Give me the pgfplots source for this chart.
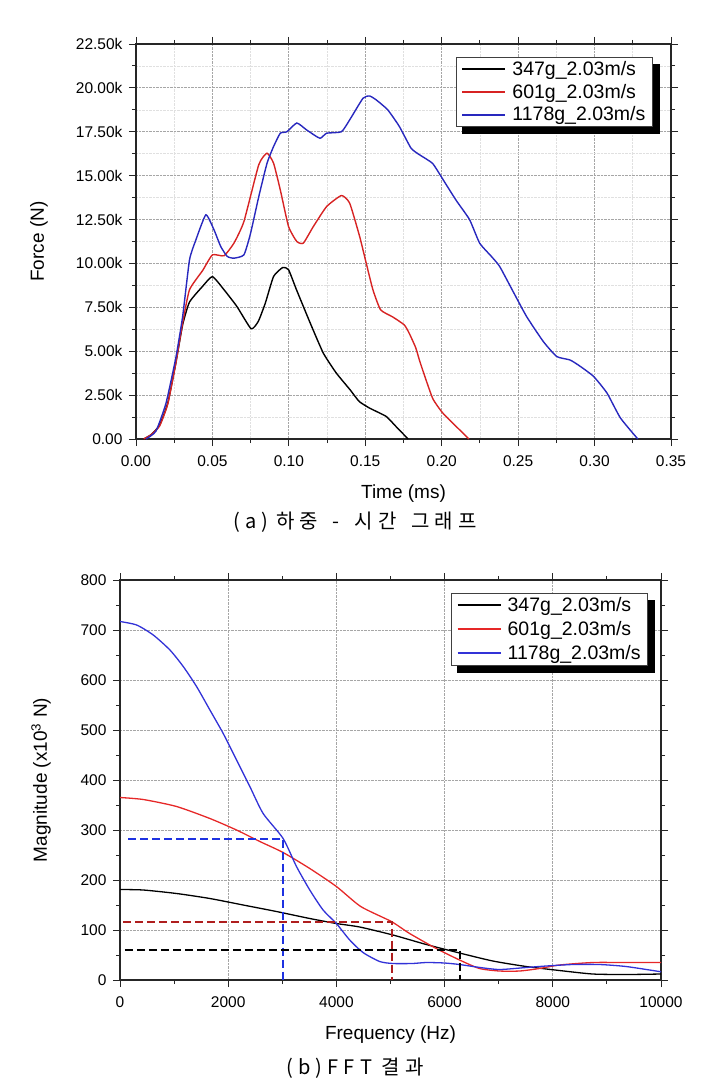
\documentclass[border=0pt]{standalone}
\usepackage{fontspec}
\setmainfont{Liberation Sans}
\newfontfamily\kr[LetterSpace=26]{Noto Sans CJK KR}
\usepackage{pgfplots}
\pgfplotsset{compat=1.18}
\definecolor{tred}{RGB}{215,35,35}
\definecolor{tblue}{RGB}{40,40,190}
\definecolor{bred}{RGB}{230,40,40}
\definecolor{bblue}{RGB}{50,50,215}
\definecolor{dred}{RGB}{175,30,30}
\definecolor{dblue}{RGB}{30,50,225}
\pgfplotsset{
 myaxis/.style={
  scale only axis,
  axis line style={line width=1.2pt, black!85},
  tick align=outside,
  major tick length=7pt, minor tick length=4pt,
  every tick/.style={line width=1pt, black!85},
  tick label style={font=\fontsize{15.5}{18}\selectfont},
  xticklabel style={yshift=-6pt},
  yticklabel style={xshift=-3pt},
  /pgf/number format/assume math mode=true,
  scaled x ticks=false, scaled y ticks=false,
  major grid style={densely dotted, line width=0.8pt, black!35},
  minor grid style={densely dotted, line width=0.6pt, black!12},
  every axis x label/.style={at={(axis description cs:0.5,0)}, anchor=center, yshift=-55pt, font=\fontsize{19}{22}\selectfont},
  every axis y label/.style={at={(axis description cs:0,0.5)}, anchor=center, rotate=90, font=\fontsize{19}{22}\selectfont},
  legend cell align=left,
  legend style={draw=black!75, line width=0.8pt, fill=white,
    font=\fontsize{19.5}{22}\selectfont, inner xsep=5pt, inner ysep=3pt,
    nodes={inner ysep=1.2pt},
    /tikz/every odd column/.style={column sep=4pt}},
  legend image code/.code={\draw[##1, line width=2pt] (0pt,0pt) -- (43pt,0pt);},
 }
}
\begin{document}
\begin{tikzpicture}
\useasboundingbox (0pt,0pt) rectangle (721pt,-1081pt);
% ---------------- (a) ----------------
\begin{axis}[myaxis, at={(136pt,-439pt)}, anchor=south west, width=535pt, height=395pt,
  xmin=0, xmax=0.35, ymin=0, ymax=22.5,
  xtick={0,0.05,0.10,0.15,0.20,0.25,0.30,0.35},
  xticklabels={0.00,0.05,0.10,0.15,0.20,0.25,0.30,0.35},
  ytick={0,2.5,5,7.5,10,12.5,15,17.5,20,22.5},
  yticklabels={0.00,2.50k,5.00k,7.50k,10.00k,12.50k,15.00k,17.50k,20.00k,22.50k},
  minor x tick num=1, minor y tick num=1,
  grid=both,
  xlabel={Time (ms)}, ylabel={Force (N)},
  ylabel style={at={(axis description cs:-0.1813,0.5)}},
  legend style={name=LA, row sep=4.5pt, at={(axis description cs:0.966,0.967)}, anchor=north east},
]
\addplot[black, line width=1.4pt, smooth, tension=0.3] coordinates {
(0.005,0) (0.010,0.25) (0.0155,0.8) (0.0208,2.05) (0.026,4.3) (0.0305,6.5) (0.035,7.8)
(0.0436,8.7) (0.050,9.25) (0.0576,8.5) (0.066,7.55) (0.0753,6.28) (0.080,6.7)
(0.0846,7.74) (0.090,9.26) (0.096,9.77) (0.0998,9.64) (0.105,8.5) (0.114,6.6)
(0.1225,4.9) (0.131,3.76) (0.140,2.81) (0.146,2.14) (0.1528,1.76) (0.1636,1.29)
(0.170,0.72) (0.178,0)};
\addlegendentry{347g\_2.03m/s}
\addplot[tred, line width=1.4pt, smooth, tension=0.3] coordinates {
(0.005,0) (0.010,0.25) (0.0155,0.75) (0.0208,2.0) (0.026,4.3) (0.0305,6.6) (0.035,8.5)
(0.0436,9.6) (0.050,10.49) (0.0576,10.44) (0.0641,11.16) (0.0706,12.39) (0.0803,15.62)
(0.0857,16.28) (0.090,15.71) (0.0944,14.19) (0.0998,12.1) (0.1052,11.25) (0.1095,11.16)
(0.116,12.1) (0.1247,13.24) (0.1344,13.87) (0.1398,13.43) (0.1463,11.54) (0.1506,10.02)
(0.155,8.5) (0.160,7.36) (0.168,6.95) (0.1755,6.5) (0.1787,6.03) (0.183,5.2)
(0.186,4.33) (0.194,2.33) (0.2007,1.48) (0.2094,0.72) (0.2178,0)};
\addlegendentry{601g\_2.03m/s}
\addplot[tblue, line width=1.4pt, smooth, tension=0.3] coordinates {
(0.0065,0) (0.013,0.44) (0.0196,2.03) (0.026,4.6) (0.0305,6.97) (0.035,10.2) (0.039,11.3)
(0.0457,12.77) (0.0511,11.9) (0.0554,10.97) (0.0597,10.4) (0.064,10.3) (0.0706,10.49)
(0.0749,11.7) (0.0803,13.8) (0.0857,15.7) (0.090,16.66) (0.0944,17.42) (0.0987,17.5)
(0.1052,18.0) (0.1117,17.6) (0.1203,17.13) (0.1247,17.42) (0.1344,17.5) (0.1398,18.18)
(0.1485,19.41) (0.1528,19.54) (0.1571,19.32) (0.1647,18.75) (0.1723,17.8) (0.1799,16.57)
(0.1853,16.2) (0.194,15.7) (0.2007,14.8) (0.2094,13.6) (0.2182,12.5) (0.2248,11.16)
(0.2325,10.4) (0.2379,9.83) (0.2467,8.4) (0.2555,6.98) (0.2664,5.56) (0.2752,4.7)
(0.284,4.5) (0.2906,4.14) (0.2993,3.57) (0.3081,2.62) (0.3169,1.2) (0.3283,0)};
\addlegendentry{1178g\_2.03m/s}
\end{axis}
\fill[black] ([xshift=6pt,yshift=-7pt]LA.south west) rectangle ([xshift=7pt,yshift=-0.4pt]LA.south east);
\fill[black] ([xshift=0.4pt,yshift=-7pt]LA.north east) rectangle ([xshift=7pt,yshift=-7pt]LA.south east);
\node[font=\kr\fontsize{20}{22}\selectfont] at (355pt,-522pt) {(a)\hspace{8pt}하중\hspace{5pt} - \hspace{5pt}시간\hspace{5pt} 그래프};
% ---------------- (b) ----------------
\begin{axis}[myaxis, at={(120pt,-980pt)}, anchor=south west, width=541pt, height=400pt,
  xmin=0, xmax=10000, ymin=0, ymax=800,
  xtick={0,2000,4000,6000,8000,10000},
  xticklabels={0,2000,4000,6000,8000,10000},
  ytick={0,100,200,300,400,500,600,700,800},
  yticklabels={0,100,200,300,400,500,600,700,800},
  minor x tick num=1, minor y tick num=1,
  grid=major,
  xlabel={Frequency (Hz)}, ylabel={Magnitude (x10\textsuperscript{3} N)},
  ylabel style={at={(axis description cs:-0.146,0.5)}},
  legend style={name=LB, row sep=6pt, at={(axis description cs:0.976,0.9675)}, anchor=north east},
]
\addplot[black, line width=1.3pt, smooth, tension=0.4] coordinates {
(0,181) (431,180) (1046,173) (1662,163) (2277,150) (2892,137) (3508,123) (4000,113)
(4431,106) (5046,90) (5662,71) (6277,54) (6892,38) (7508,27) (8123,19) (8738,12)
(9354,11) (10000,12)};
\addlegendentry{347g\_2.03m/s}
\addplot[bred, line width=1.3pt, smooth, tension=0.4] coordinates {
(0,365) (431,361) (1046,347) (1662,323) (2154,300) (2585,277) (3015,255) (3508,223)
(4000,187) (4450,147) (5015,117) (5354,93) (5846,63) (6277,40) (6646,23) (7015,18)
(7385,18) (7754,23) (8123,30) (8738,35) (9354,35) (10000,35)};
\addlegendentry{601g\_2.03m/s}
\addplot[bblue, line width=1.3pt, smooth, tension=0.4] coordinates {
(0,717) (308,710) (615,690) (923,660) (1169,627) (1415,587) (1662,540) (1908,493)
(2154,440) (2400,387) (2646,333) (3015,283) (3262,227) (3508,180) (3754,140) (4000,113)
(4246,80) (4492,55) (4800,37) (5046,33) (5400,33) (5662,35) (6000,34) (6277,31)
(6658,25) (7015,21) (7508,25) (7877,28) (8369,31) (8862,31) (9354,27) (9969,17) (10000,17)};
\addlegendentry{1178g\_2.03m/s}
\addplot[dblue, line width=2pt, dash pattern=on 8pt off 4pt, forget plot] coordinates {(154,283) (3015,283) (3015,0)};
\addplot[dred, line width=2pt, dash pattern=on 8pt off 4pt, forget plot] coordinates {(62,117) (5030,117) (5030,0)};
\addplot[black, line width=2pt, dash pattern=on 8pt off 4pt, forget plot] coordinates {(92,60) (6290,60) (6290,0)};
\end{axis}
\fill[black] ([xshift=6pt,yshift=-7pt]LB.south west) rectangle ([xshift=7pt,yshift=-0.4pt]LB.south east);
\fill[black] ([xshift=0.4pt,yshift=-7pt]LB.north east) rectangle ([xshift=7pt,yshift=-7pt]LB.south east);
\node[font=\kr\fontsize{20}{22}\selectfont] at (355pt,-1068pt) {(b)\hspace{5pt}FFT 결과};
\end{tikzpicture}
\end{document}
